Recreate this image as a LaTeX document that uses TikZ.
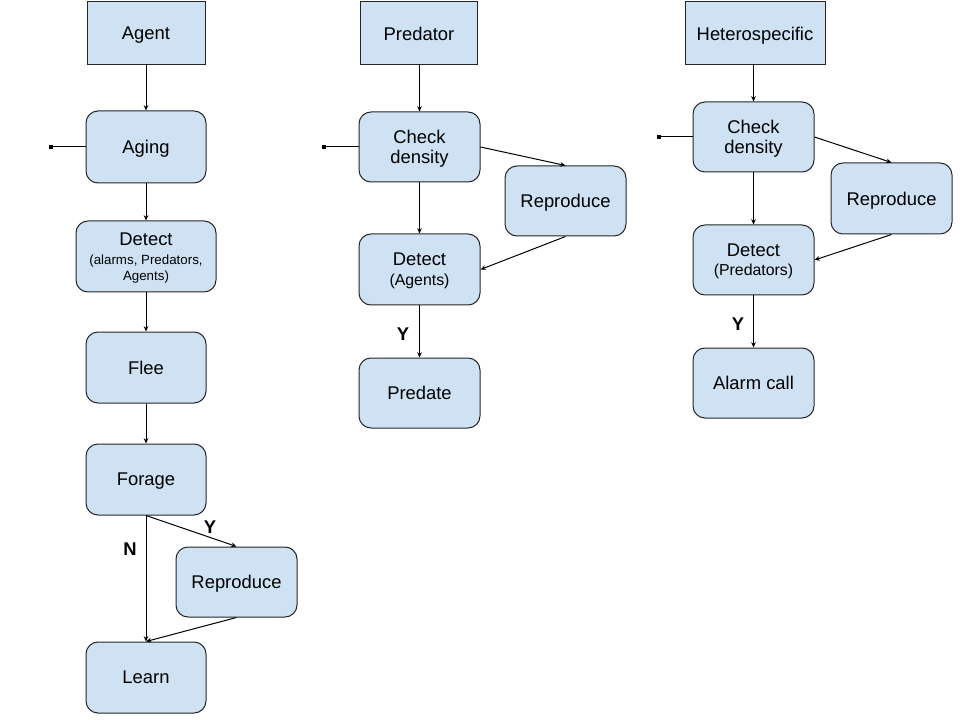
\documentclass[tikz,border=0pt]{standalone}
\usepackage{fontspec}
\setmainfont{Liberation Sans}
\usetikzlibrary{arrows.meta}
\definecolor{boxfill}{HTML}{CFE2F3}
\begin{document}
\begin{tikzpicture}[x=0.75pt,y=-0.75pt,
  box/.style={draw=black!85,line width=0.75pt,fill=boxfill,inner sep=0pt,align=center,
    text depth=0pt,font=\fontsize{13.8}{16}\selectfont},
  rbox/.style={box,rounded corners=9pt},
  sq/.style={box,rounded corners=0pt},
  conn/.style={line width=0.75pt,-{Stealth[length=4pt,width=3.5pt]}},
  stub/.style={fill=black,inner sep=0pt,minimum size=3pt},
  lab/.style={font=\fontsize{13.8}{16}\selectfont\bfseries,inner sep=0pt}]
\useasboundingbox (0,0) rectangle (960,720);
% Agent column
\node[sq,minimum width=88.5pt,minimum height=47.25pt] (agent) at (146,33.5) {Agent};
\node[rbox,minimum width=90pt,minimum height=54pt] (aging) at (146,147) {Aging};
\node[rbox,minimum width=105pt,minimum height=53.25pt,text depth=-3pt] (detA) at (146,256.5) {Detect\\[-2pt]{\fontsize{10}{12}\selectfont (alarms, Predators,}\\[-4pt]{\fontsize{10}{12}\selectfont Agents)}};
\node[rbox,minimum width=90pt,minimum height=53.25pt] (flee) at (146,367.5) {Flee};
\node[rbox,minimum width=90pt,minimum height=53.25pt] (forage) at (146,479.5) {Forage};
\node[rbox,minimum width=90.75pt,minimum height=52.5pt] (repA) at (236.5,582) {Reproduce};
\node[rbox,minimum width=90pt,minimum height=53.25pt] (learn) at (146,677.5) {Learn};
\node[stub] (s1) at (51,147) {};
\draw[line width=0.75pt] (s1.center) -- (aging.west);
\draw[conn] (agent) -- (aging);
\draw[conn] (aging) -- (detA);
\draw[conn] (detA) -- (flee);
\draw[conn] (flee) -- (forage);
\draw[conn] (forage.south) -- (repA.north);
\draw[conn] (forage.south) -- (learn.north);
\draw[conn] (repA.south) -- (learn.north);
\node[lab] (ya) at (210,527) {Y};
\node[lab] (na) at (130,549) {N};
% Predator column
\node[sq,minimum width=87.75pt,minimum height=47.25pt] (pred) at (419,33.5) {Predator};
\node[rbox,minimum width=90.75pt,minimum height=52.5pt] (chkP) at (419.5,147) {Check\\[-0.5pt]density};
\node[rbox,minimum width=90.75pt,minimum height=52.5pt] (repP) at (565.5,201) {Reproduce};
\node[rbox,minimum width=90.75pt,minimum height=53.25pt] (detP) at (419.5,269.5) {Detect\\[-1.25pt]{\fontsize{11.9}{14}\selectfont (Agents)}};
\node[rbox,minimum width=90.75pt,minimum height=52.5pt] (predate) at (419.5,393) {Predate};
\node[stub] (s2) at (324,147) {};
\draw[line width=0.75pt] (s2.center) -- (chkP.west);
\draw[conn] (pred.south -| chkP.north) -- (chkP.north);
\draw[conn] (chkP.east) -- (repP.north);
\draw[conn] (repP.south) -- (detP.east);
\draw[conn] (chkP) -- (detP);
\draw[conn] (detP) -- (predate);
\node[lab] (yp) at (403,334) {Y};
% Heterospecific column
\node[sq,minimum width=105pt,minimum height=47.25pt] (het) at (755,33.5) {Heterospecific};
\node[rbox,minimum width=90.75pt,minimum height=52.5pt] (chkH) at (753.5,137) {Check\\[-0.5pt]density};
\node[rbox,minimum width=90.75pt,minimum height=53.25pt] (repH) at (891.5,198.5) {Reproduce};
\node[rbox,minimum width=90.75pt,minimum height=52.5pt] (detH) at (753.5,260) {Detect\\[-2pt]{\fontsize{11.9}{14}\selectfont (Predators)}};
\node[rbox,minimum width=90.75pt,minimum height=52.5pt] (alarm) at (753.5,383) {Alarm call};
\node[stub] (s3) at (659,137) {};
\draw[line width=0.75pt] (s3.center) -- (chkH.west);
\draw[conn] (het.south -| chkH.north) -- (chkH.north);
\draw[conn] (chkH.east) -- (repH.north);
\draw[conn] (repH.south) -- (detH.east);
\draw[conn] (chkH) -- (detH);
\draw[conn] (detH) -- (alarm);
\node[lab] (yh) at (738,324) {Y};
\end{tikzpicture}
\end{document}
